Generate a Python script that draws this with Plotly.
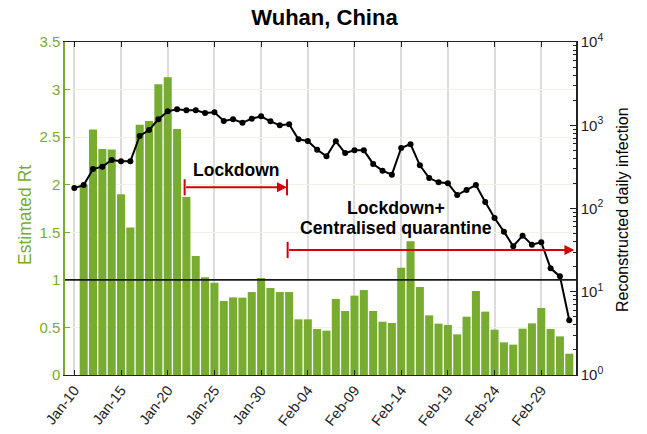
import pandas as pd
import plotly.graph_objects as go

# ---- data ----
line_dates = pd.date_range("2020-01-10", "2020-03-03").strftime("%Y-%m-%d").tolist()
bar_dates = line_dates[1:]

rt_values = [2.00, 2.58, 2.375, 2.37, 1.90, 1.55, 2.63, 2.67, 3.055, 3.13,
             2.585, 1.87, 1.25, 1.027, 0.97, 0.778, 0.816, 0.813, 0.872, 1.02,
             0.914, 0.872, 0.872, 0.585, 0.585, 0.483, 0.466, 0.80, 0.673, 0.834,
             0.893, 0.673, 0.56, 0.547, 1.128, 1.405, 0.925, 0.627, 0.54, 0.526,
             0.427, 0.613, 0.883, 0.666, 0.477, 0.343, 0.319, 0.487, 0.543, 0.704,
             0.483, 0.406, 0.224]

daily_infection = [176, 191, 298, 318, 382, 369, 369, 743, 877, 1178,
                   1470, 1554, 1511, 1511, 1403, 1430, 1125, 1178, 1073, 1200,
                   1281, 1115, 998, 1026, 678, 647, 509, 424, 641, 464,
                   500, 500, 343, 285, 255, 533, 593, 330, 232, 206,
                   201, 145, 167, 191, 120, 77, 52.7, 35.2, 47.2, 36.8,
                   39.3, 19.1, 15.3, 4.54]

x_tick_vals = ["2020-01-10", "2020-01-15", "2020-01-20", "2020-01-25", "2020-01-30",
               "2020-02-04", "2020-02-09", "2020-02-14", "2020-02-19", "2020-02-24",
               "2020-02-29"]
x_tick_text = ["Jan-10", "Jan-15", "Jan-20", "Jan-25", "Jan-30", "Feb-04", "Feb-09",
               "Feb-14", "Feb-19", "Feb-24", "Feb-29"]

y2_tick_vals = [1, 10, 100, 1000, 10000]
y2_tick_text = ["10<sup>0</sup>", "10<sup>1</sup>", "10<sup>2</sup>", "10<sup>3</sup>", "10<sup>4</sup>"]
y2_minor_vals = [m * 10 ** k for k in range(4) for m in range(2, 10)]

GREEN = "#77AC30"
RED = "#D40000"
FONT = "Liberation Sans, Arial, Helvetica, sans-serif"

W, H = 647, 434
ML, MR, MT, MB = 65, 71, 42, 59
PW, PH = W - ML - MR, H - MT - MB

def at(day_offset):
    return (pd.Timestamp("2020-01-10") + pd.Timedelta(days=day_offset)).strftime("%Y-%m-%d %H:%M:%S")

def px_x(px):
    return (px - ML) / PW

def px_y(py):
    return (H - MB - py) / PH

fig = go.Figure()
fig.add_trace(go.Bar(x=bar_dates, y=rt_values, marker=dict(color=GREEN, line=dict(width=0)),
                     yaxis="y", showlegend=False, hoverinfo="skip"))
fig.add_trace(go.Scatter(x=line_dates, y=daily_infection, mode="lines+markers",
                         line=dict(color="black", width=2),
                         marker=dict(color="black", size=6),
                         yaxis="y2", showlegend=False))

# annotation geometry (positions only)
a1_x0, a1_x1, a1_y = 11.81, 22.77, 1.973
a2_x0, a2_x1, a2_y = 22.84, 53.55, 1.314
tick_h = 0.085

shapes = [
    dict(type="line", xref="paper", x0=0, x1=1, yref="y", y0=1, y1=1,
         line=dict(color="#1a1a1a", width=1.6), layer="above"),
    dict(type="line", xref="x", x0=at(a1_x0), x1=at(a1_x0), yref="y", y0=a1_y - tick_h, y1=a1_y + tick_h,
         line=dict(color=RED, width=2), layer="above"),
    dict(type="line", xref="x", x0=at(a1_x1), x1=at(a1_x1), yref="y", y0=a1_y - tick_h, y1=a1_y + tick_h,
         line=dict(color=RED, width=2), layer="above"),
    dict(type="line", xref="x", x0=at(a2_x0), x1=at(a2_x0), yref="y", y0=a2_y - tick_h, y1=a2_y + tick_h,
         line=dict(color=RED, width=2), layer="above"),
]

annotations = [
    dict(x=at(a1_x1), y=a1_y, ax=at(a1_x0), ay=a1_y, xref="x", yref="y", axref="x", ayref="y",
         text="", showarrow=True, arrowhead=2, arrowsize=1, arrowwidth=2, arrowcolor=RED),
    dict(x=at(a2_x1), y=a2_y, ax=at(a2_x0), ay=a2_y, xref="x", yref="y", axref="x", ayref="y",
         text="", showarrow=True, arrowhead=2, arrowsize=1, arrowwidth=2, arrowcolor=RED),
    dict(x=at(17.35), y=2.15, xref="x", yref="y", text="<b>Lockdown</b>", showarrow=False,
         font=dict(family=FONT, size=17.5, color="black"), xanchor="center", yanchor="middle"),
    dict(x=at(34.45), y=1.757, xref="x", yref="y", text="<b>Lockdown+</b>", showarrow=False,
         font=dict(family=FONT, size=17.7, color="black"), xanchor="center", yanchor="middle"),
    dict(x=at(34.45), y=1.54, xref="x", yref="y", text="<b>Centralised quarantine</b>", showarrow=False,
         font=dict(family=FONT, size=17.7, color="black"), xanchor="center", yanchor="middle"),
    # axis titles
    dict(x=px_x(25), y=px_y(215), xref="paper", yref="paper", text="Estimated Rt", textangle=-90,
         showarrow=False, xanchor="center", yanchor="middle",
         font=dict(family=FONT, size=17.5, color=GREEN)),
    dict(x=px_x(623), y=px_y(210), xref="paper", yref="paper", text="Reconstructed daily infection",
         textangle=-90, showarrow=False, xanchor="center", yanchor="middle",
         font=dict(family=FONT, size=16, color="black")),
]

fig.update_layout(
    width=W, height=H,
    margin=dict(l=ML, r=MR, t=MT, b=MB, pad=0, autoexpand=False),
    paper_bgcolor="white", plot_bgcolor="white",
    font=dict(family=FONT, color="black"),
    bargap=0.14,
    title=dict(text="<b>Wuhan, China</b>", x=324.5 / W, xref="container", xanchor="center",
               y=1 - 17.5 / H, yref="container", yanchor="middle",
               font=dict(family=FONT, size=22, color="black")),
    xaxis=dict(type="date", range=["2020-01-09 00:00:00", at(53.72)], automargin=False,
               tickmode="array", tickvals=x_tick_vals, ticktext=x_tick_text,
               tickangle=-52, tickfont=dict(size=14.5, color="#222"),
               ticks="inside", ticklen=5, tickcolor="#222", tickwidth=1.2,
               showline=True, linecolor="#222", linewidth=1.2, mirror="ticks",
               showgrid=True, gridcolor="#dcdcdc", gridwidth=1.5, zeroline=False),
    yaxis=dict(range=[0, 3.5], dtick=0.5, tick0=0, automargin=False,
               tickfont=dict(size=15, color=GREEN),
               ticks="inside", ticklen=5, tickcolor=GREEN, tickwidth=1,
               showline=True, linecolor=GREEN, linewidth=1.5,
               showgrid=True, gridcolor="#edf4e5", gridwidth=1, zeroline=False),
    yaxis2=dict(type="log", range=[0, 4], overlaying="y", side="right", automargin=False,
                tickmode="array", tickvals=y2_tick_vals, ticktext=y2_tick_text,
                tickfont=dict(size=15, color="#222"),
                ticks="inside", ticklen=6, tickcolor="#222", tickwidth=1.2,
                minor=dict(tickmode="array", tickvals=y2_minor_vals, ticks="inside", ticklen=3,
                           tickcolor="#222", tickwidth=1, showgrid=False),
                showline=True, linecolor="#222", linewidth=1.5, showgrid=False, zeroline=False),
    shapes=shapes,
    annotations=annotations,
    showlegend=False,
)

fig.write_html("out.html", config={"displayModeBar": False},
               post_script="document.body.style.margin='0';")
